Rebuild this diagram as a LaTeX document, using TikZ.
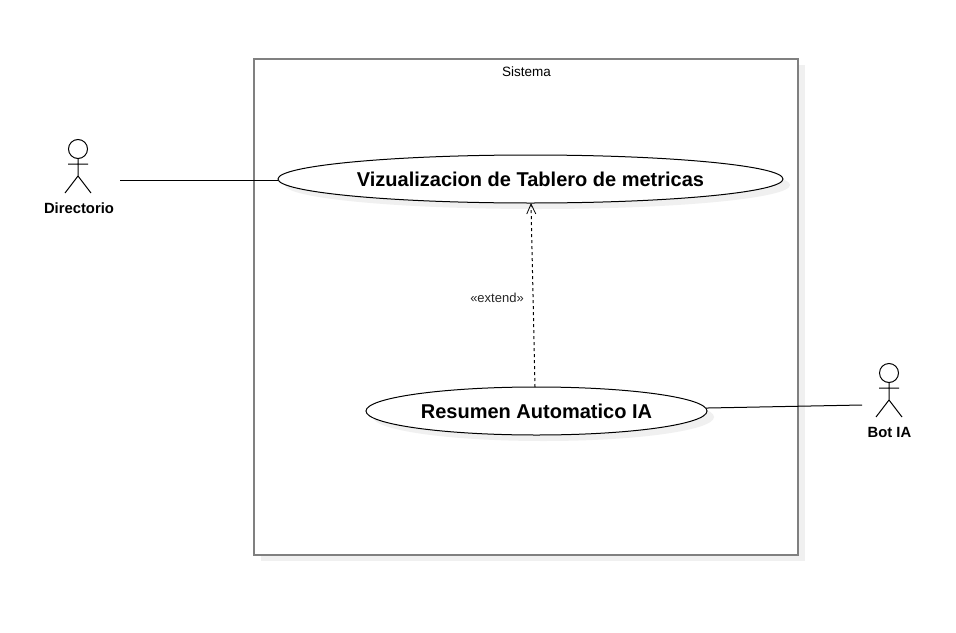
\documentclass[tikz,border=0pt]{standalone}
\usepackage{fontspec}
\setmainfont{Liberation Sans}
\usetikzlibrary{shapes.geometric,arrows.meta}
\definecolor{shadowgray}{HTML}{F0F0F0}
\definecolor{framegray}{HTML}{808080}
\tikzset{
  usecase/.style={ellipse,draw=black,line width=1pt,fill=white,inner sep=0pt,font=\bfseries\fontsize{20}{24}\selectfont},
  frame/.style={draw=framegray,line width=2pt,fill=white},
  shadowshape/.style={fill=shadowgray,draw=none},
  stick/.style={draw=black,line width=1pt},
  assoc/.style={draw=black,line width=1pt},
  extendline/.style={draw=black,line width=1pt,dashed,dash pattern=on 3pt off 3pt,-{Straight Barb[length=10pt,width=9pt,line width=.8pt]}},
  actorlabel/.style={inner sep=0pt,font=\bfseries\fontsize{14.8}{17}\selectfont},
  systemtext/.style={inner sep=0pt,font=\fontsize{13.5}{15}\selectfont,text=black},
  smalltext/.style={inner sep=0pt,font=\fontsize{13}{15}\selectfont,text=black!85}
}
\begin{document}
\begin{tikzpicture}[x=1pt,y=-1pt]
\useasboundingbox (0,0) rectangle (956,632);
\fill[white] (0,0) rectangle (956,632);
% system frame
\fill[shadowshape] (261,65) rectangle (805,561);
\draw[frame] (254,59) rectangle (798,555);
\node[systemtext] (sys) at (526.5,71.5) {Sistema};
% use case shadows
\fill[shadowshape] (537.5,185) ellipse [x radius=252.5,y radius=24];
\fill[shadowshape] (543.5,417) ellipse [x radius=170.5,y radius=24];
% use cases
\node[usecase,minimum width=505pt,minimum height=48pt] (uc1) at (530.5,179) {Vizualizacion de Tablero de metricas};
\node[usecase,minimum width=341pt,minimum height=48pt] (uc2) at (536.5,411) {Resumen Automatico IA};
% actor: Directorio
\draw[stick] (78,149) circle [radius=9.5];
\draw[stick] (78,158.5) -- (78,176) (68,164) -- (88,164) (65,193) -- (78,176) -- (91,193);
\node[actorlabel] (dir) at (79,208) {Directorio};
% actor: Bot IA
\draw[stick] (889,373) circle [radius=9.5];
\draw[stick] (889,382.5) -- (889,400) (879,388) -- (899,388) (876,417) -- (889,400) -- (902,417);
\node[actorlabel] (bot) at (889.5,432) {Bot IA};
% connectors
\coordinate (dirend) at (120,180);
\coordinate (botend) at (862,405);
\coordinate (extfrom) at (535,387);
\coordinate (extto) at (531,203);
\draw[assoc] (dirend) -- (uc1.west |- dirend);
\draw[assoc] (botend) -- (uc2.1);
\draw[extendline] (extfrom) -- (extto);
\node[smalltext] (ext) at (497,298) {«extend»};
\end{tikzpicture}
\end{document}
